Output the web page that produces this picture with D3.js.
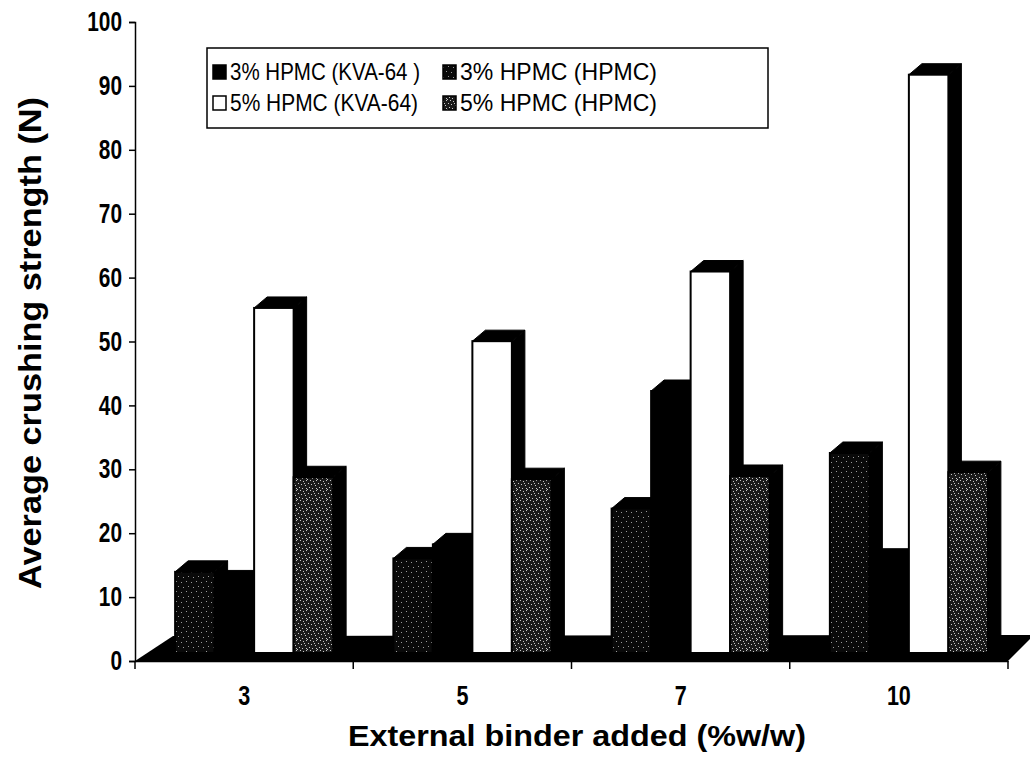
<!DOCTYPE html>
<html><head><meta charset="utf-8">
<script src="https://cdnjs.cloudflare.com/ajax/libs/d3/7.8.5/d3.min.js"></script>
<style>body{margin:0;background:#fff} svg{display:block}</style>
</head><body>
<script>
// ---- data ----
const categories = ["3", "5", "7", "10"];
const seriesNames = ["3% HPMC (KVA-64 )", "3% HPMC (HPMC)", "5% HPMC (KVA-64)", "5% HPMC (HPMC)"];
const kva3  = [11.2, 17.0, 41.0, 14.6];
const hpmc3 = [12.7, 14.8, 22.6, 31.3];
const kva5  = [54.0, 48.8, 59.7, 90.5];
const hpmc5 = [27.5, 27.2, 27.7, 28.3];
const yTicks = [0, 10, 20, 30, 40, 50, 60, 70, 80, 90, 100];
const yTitle = "Average crushing strength (N)";
const xTitle = "External binder added (%w/w)";

// ---- layout ----
const W = 1030, H = 759;
const FONT = "'Liberation Sans', Arial, sans-serif";
const svg = d3.select("body").append("svg").attr("width", W).attr("height", H)
  .style("font-family", FONT);

const defs = svg.append("defs");
function stipple(id, base, dot, pts) {
  const p = defs.append("pattern").attr("id", id).attr("patternUnits", "userSpaceOnUse")
    .attr("width", 10).attr("height", 10);
  p.append("rect").attr("width", 10).attr("height", 10).attr("fill", base);
  pts.forEach(([a, b]) => p.append("rect").attr("x", a).attr("y", b).attr("width", 1).attr("height", 1).attr("fill", dot));
}
stipple("patDark", "#0a0a0a", "#9a9a9a", [[1,2],[6,1],[3,7],[8,6]]);
stipple("patGray", "#1a1a1a", "#c8c8c8", [[0,0],[3,1],[6,0],[8,3],[1,4],[5,5],[9,7],[2,8],[6,8],[4,3],[7,9]]);

const x = d3.scaleBand().domain(categories).range([135, 1008]).paddingInner(0.276).paddingOuter(0.138);
const barKeys = [1, 0, 2, 3]; // drawing order inside a group (series index)
const xs = d3.scaleBand().domain(d3.range(barKeys.length)).range([0, x.bandwidth()]);
const y = d3.scaleLinear().domain([0, 100]).range([661, 22]);
const values = [kva3, hpmc3, kva5, hpmc5];
const fills = ["#000", "url(#patDark)", "#fff", "url(#patGray)"];

const FRONT = {dx: 10, dy: -8};
const DEPTH = {dx: 13, dy: -11};

// floor
const x0r = x.range()[0], x1r = x.range()[1];
svg.append("polygon")
  .attr("points", [[x0r, y(0)], [x1r, y(0)], [x1r + 26, y(0) - 26], [x0r + 38, y(0) - 25]].map(p => p.join(",")).join(" "))
  .attr("fill", "#000");

// bars
const g = svg.append("g");
categories.forEach((c, ci) => {
  barKeys.forEach((s, k) => {
    const v = values[s][ci];
    const bx0 = x(c) + xs(k) + FRONT.dx, bx1 = bx0 + xs.bandwidth();
    const yb = y(0) + FRONT.dy, yt = y(v) + FRONT.dy;
    const pts = a => a.map(p => p.join(",")).join(" ");
    g.append("polygon").attr("points", pts([[bx1, yt], [bx1 + DEPTH.dx, yt + DEPTH.dy], [bx1 + DEPTH.dx, yb + DEPTH.dy], [bx1, yb]]))
      .attr("fill", "#000").attr("stroke", "#000");
    g.append("polygon").attr("points", pts([[bx0, yt], [bx1, yt], [bx1 + DEPTH.dx, yt + DEPTH.dy], [bx0 + DEPTH.dx, yt + DEPTH.dy]]))
      .attr("fill", "#000").attr("stroke", "#000");
    g.append("rect").attr("x", bx0).attr("y", yt).attr("width", xs.bandwidth()).attr("height", yb - yt)
      .attr("fill", fills[s]).attr("stroke", "#000").attr("stroke-width", 2);
  });
});

// y axis
const yAxis = svg.append("g").attr("transform", `translate(${x0r},0)`)
  .call(d3.axisLeft(y).tickValues(yTicks).tickSize(6).tickPadding(7));
yAxis.select(".domain").attr("stroke", "#000").attr("stroke-width", 1.5);
yAxis.selectAll(".tick line").attr("stroke", "#000").attr("stroke-width", 1.5);
yAxis.selectAll("text").attr("font-size", 27).attr("font-weight", "bold").attr("fill", "#000")
  .attr("font-family", FONT)
  .attr("textLength", function () { return this.textContent.length * 11.6; })
  .attr("lengthAdjust", "spacingAndGlyphs");

// x axis
const xAxis = svg.append("g").attr("transform", `translate(0,${y(0)})`)
  .call(d3.axisBottom(x).tickSize(0).tickPadding(25));
xAxis.select(".domain").attr("stroke", "#000").attr("stroke-width", 1.5);
xAxis.selectAll("text").attr("font-size", 27).attr("font-weight", "bold").attr("fill", "#000")
  .attr("font-family", FONT)
  .attr("textLength", function () { return this.textContent.length * 12; })
  .attr("lengthAdjust", "spacingAndGlyphs");
const bounds = categories.map(c => x(c) - x.step() * x.paddingInner() / 2).concat([x1r]);
bounds[0] = x0r;
svg.append("g").selectAll("line").data(bounds).join("line")
  .attr("x1", d => d).attr("x2", d => d).attr("y1", y(0)).attr("y2", y(0) + 8)
  .attr("stroke", "#000").attr("stroke-width", 1.5);

// titles
svg.append("text").attr("transform", `translate(41,343) rotate(-90)`)
  .attr("text-anchor", "middle").attr("font-size", 31).attr("font-weight", "bold")
  .attr("textLength", 492).attr("lengthAdjust", "spacingAndGlyphs").text(yTitle);
svg.append("text").attr("x", 577).attr("y", 746)
  .attr("text-anchor", "middle").attr("font-size", 30).attr("font-weight", "bold")
  .attr("textLength", 458).attr("lengthAdjust", "spacingAndGlyphs").text(xTitle);

// legend
const lg = svg.append("g");
lg.append("rect").attr("x", 207).attr("y", 48).attr("width", 561).attr("height", 80)
  .attr("fill", "#fff").attr("stroke", "#000").attr("stroke-width", 1.5);
const legPos = [[213, 72], [443, 72], [213, 103], [443, 103]];
const legLen = [190, 197, 188, 197];
seriesNames.forEach((n, i) => {
  const [lx, ly] = legPos[i];
  lg.append("rect").attr("x", lx).attr("y", ly - 7).attr("width", 13).attr("height", 14)
    .attr("fill", fills[i]).attr("stroke", "#000").attr("stroke-width", 1.5);
  lg.append("text").attr("x", lx + 17).attr("y", ly + 8).attr("font-size", 24)
    .attr("textLength", legLen[i]).attr("lengthAdjust", "spacingAndGlyphs").text(n);
});
</script>
</body></html>
